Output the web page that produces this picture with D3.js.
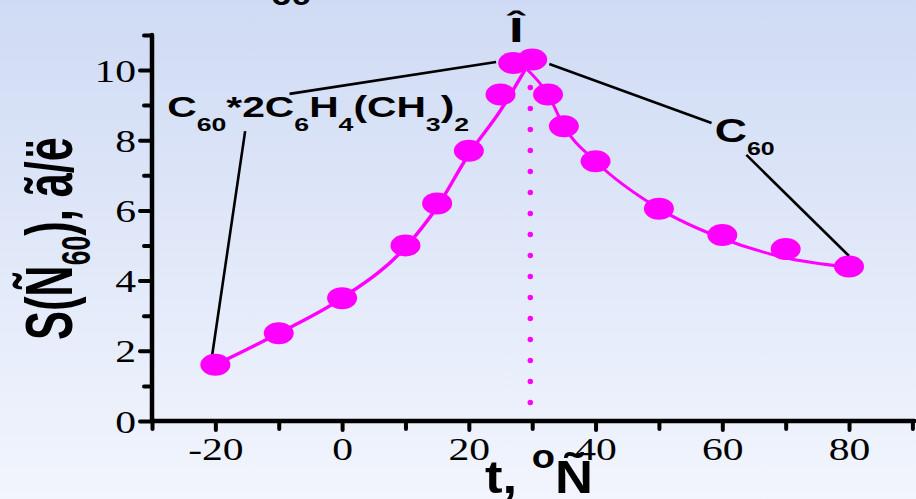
<!DOCTYPE html>
<html><head><meta charset="utf-8">
<script src="https://cdn.jsdelivr.net/npm/d3@7"></script>
<style>html,body{margin:0;padding:0;overflow:hidden;background:#fff}</style>
</head><body>
<svg id="chart" width="916" height="499"></svg>
<script>
// ---- data ----
const tempsLeft   = [-20, -10, 0, 10, 15, 20, 25, 27];
const valuesLeft  = [1.6, 2.5, 3.5, 5.0, 6.2, 7.7, 9.3, 10.2];
const tempsRight  = [30, 32.5, 35, 40, 50, 60, 70, 80];
const valuesRight = [10.3, 9.3, 8.4, 7.4, 6.05, 5.3, 4.9, 4.4];
// fitted curves as drawn in the picture
const fitLeftT  = [-20, -10, 0, 10, 15, 20, 25, 29];
const fitLeftV  = [1.6, 2.5, 3.5, 4.95, 6.1, 7.6, 8.85, 10.05];
const fitRightT = [29, 32.5, 35, 40, 50, 60, 70, 80];
const fitRightV = [10.05, 9.3, 8.4, 7.4, 6.05, 5.2, 4.65, 4.38];
// vertical dotted marker
const markerT = 29.7;
const markerRange = [0.5, 9.5];
// axes
const xTickValues = [-20, 0, 20, 40, 60, 80];
const xTickLabels = ["-20", "0", "20", "40", "60", "80"];
const xMinorTicks = [-30, -10, 10, 30, 50, 70, 90];
const yTickValues = [0, 2, 4, 6, 8, 10];
const yTickLabels = ["0", "2", "4", "6", "8", "10"];
const yMinorTicks = [1, 3, 5, 7, 9, 11];
const xDomain = [-30, 90];
const yDomain = [0, 11];
// texts
const yTitleParts = [{t:"S(Ñ"},{t:"60",sub:true},{t:"), ã/ë"}];
const xTitleParts = [{t:"t, "},{t:"o",sup:true},{t:"Ñ"}];
const label1Parts = [{t:"C"},{t:"60",sub:true},{t:"*2C"},{t:"6",sub:true},{t:"H"},{t:"4",sub:true},{t:"(CH"},{t:"3",sub:true},{t:")"},{t:"2",sub:true}];
const label2Parts = [{t:"C"},{t:"60",sub:true}];
const peakLabel = "Î";
const topFragment = "60";

// ---- drawing ----
const svg = d3.select("#chart");
const W = 916, H = 499;
const defs = svg.append("defs");
const grad = defs.append("linearGradient").attr("id","bg").attr("x1",0).attr("y1",0).attr("x2",0).attr("y2",1);
grad.append("stop").attr("offset","0%").attr("stop-color","#cfdbf4");
grad.append("stop").attr("offset","100%").attr("stop-color","#f2f5fd");
svg.append("rect").attr("width",W).attr("height",H).attr("fill","url(#bg)");

const x = d3.scaleLinear().domain(xDomain).range([152, 912.4]);
const y = d3.scaleLinear().domain(yDomain).range([421, 34.9]);

const SANS = "'Liberation Sans', Arial, sans-serif";
const SERIF = "'Liberation Serif', 'Times New Roman', serif";

// top partial title fragment
svg.append("text").attr("transform","translate(271,5) scale(1.35,1)")
  .attr("font-family",SANS).attr("font-weight","bold").attr("font-size",27).text(topFragment);

// axes
const axisG = svg.append("g");
const xAxisMajor = d3.axisBottom(x).tickValues(xTickValues).tickFormat((d,i)=>xTickLabels[i]).tickSize(9).tickSizeOuter(0);
const xAxisMinor = d3.axisBottom(x).tickValues(xMinorTicks).tickFormat("").tickSize(8).tickSizeOuter(0);
const yAxisMajor = d3.axisLeft(y).tickValues(yTickValues).tickFormat((d,i)=>yTickLabels[i]).tickSize(12).tickSizeOuter(0);
const yAxisMinor = d3.axisLeft(y).tickValues(yMinorTicks).tickFormat("").tickSize(8).tickSizeOuter(0);

function styleAxis(g){
  g.select(".domain").remove();
  g.selectAll(".tick line").attr("stroke","#000").attr("stroke-width",4).attr("stroke-linecap","round");
}
const gxm = axisG.append("g").attr("transform",`translate(0,${y(0)})`).call(xAxisMinor); styleAxis(gxm);
const gx = axisG.append("g").attr("transform",`translate(0,${y(0)})`).call(xAxisMajor); styleAxis(gx);
gx.selectAll(".tick text").attr("font-family",SERIF).attr("font-size",32).attr("fill","#000")
  .attr("y",0).attr("dy",0).attr("transform","translate(0,39) scale(1.3,1)");
const gym = axisG.append("g").attr("transform",`translate(${x(-30)},0)`).call(yAxisMinor); styleAxis(gym);
const gy = axisG.append("g").attr("transform",`translate(${x(-30)},0)`).call(yAxisMajor); styleAxis(gy);
gy.selectAll(".tick text").attr("font-family",SERIF).attr("font-size",32).attr("fill","#000")
  .attr("x",0).attr("dy",0).attr("text-anchor","end").attr("transform","translate(-16,11) scale(1.3,1)");
// axis lines
axisG.append("line").attr("x1",x(-30)).attr("x2",x(90)+2).attr("y1",y(0)).attr("y2",y(0))
  .attr("stroke","#000").attr("stroke-width",4.5).attr("stroke-linecap","round");
axisG.append("line").attr("x1",x(-30)).attr("x2",x(-30)).attr("y1",y(0)).attr("y2",y(11))
  .attr("stroke","#000").attr("stroke-width",4.5).attr("stroke-linecap","round");

// rich text helper
function richText(parent, parts, size, subSize, subDy, supSize, supDy){
  const t = parent.append("text").attr("font-family",SANS).attr("font-weight","bold").attr("font-size",size).attr("fill","#000");
  let shift = 0;
  parts.forEach(p=>{
    const ts = t.append("tspan").text(p.t);
    if (p.sub){ ts.attr("font-size",subSize).attr("dy",subDy-shift); shift = subDy; }
    else if (p.sup){ ts.attr("font-size",supSize).attr("dy",supDy-shift); shift = supDy; }
    else { if (shift!==0) ts.attr("dy",-shift); shift = 0; }
  });
  return t;
}

// y title
const yt = richText(svg, yTitleParts, 44, 27, 12);
{ const w = yt.node().getBBox().width; yt.attr("transform",`translate(72,340) rotate(-90) scale(${203/w},1.5)`); }
// x title
const xt = richText(svg, xTitleParts, 47, 0, 0, 34, -25);
{ const w = xt.node().getBBox().width; xt.attr("transform",`translate(485,493) scale(${108/w},1)`); }

// annotation connector lines (data coordinates)
const connectors = [
  [[-8.3, 9.32],[24.3, 10.23]],
  [[-15.3, 8.26],[-20.5, 1.88]],
  [[32.7, 10.17],[58.3, 8.49]],
  [[63.8, 7.58],[80.0, 4.70]]
];
svg.append("g").selectAll("line").data(connectors).join("line")
  .attr("x1",d=>x(d[0][0])).attr("y1",d=>y(d[0][1]))
  .attr("x2",d=>x(d[1][0])).attr("y2",d=>y(d[1][1]))
  .attr("stroke","#000").attr("stroke-width",2.6);

// labels
const l1 = richText(svg, label1Parts, 29, 19, 14);
{ const w = l1.node().getBBox().width; l1.attr("transform",`translate(${x(-27.6)},${y(8.66)}) scale(${302/w},1)`); }
const l2 = richText(svg, label2Parts, 34, 19, 13);
{ const w = l2.node().getBBox().width; l2.attr("transform",`translate(${x(58.8)},${y(7.95)}) scale(${60/w},1)`); }
svg.append("text").attr("font-family",SANS).attr("font-weight","bold").attr("font-size",35)
  .attr("text-anchor","middle").attr("transform",`translate(${x(27.5)},${y(10.8)}) scale(1.5,1)`).text(peakLabel);

// dotted marker
svg.append("line").attr("x1",x(markerT)).attr("x2",x(markerT))
  .attr("y1",y(markerRange[1])).attr("y2",y(markerRange[0]))
  .attr("stroke","#ff00ff").attr("stroke-width",5.5).attr("stroke-linecap","round").attr("stroke-dasharray","0,21");

// fit curves
const line = d3.line().x(d=>x(d[0])).y(d=>y(d[1])).curve(d3.curveMonotoneX);
svg.append("path").attr("d",line(d3.zip(fitLeftT,fitLeftV))).attr("fill","none").attr("stroke","#ff00ff").attr("stroke-width",3.5);
svg.append("path").attr("d",line(d3.zip(fitRightT,fitRightV))).attr("fill","none").attr("stroke","#ff00ff").attr("stroke-width",3);

// points
const pts = d3.zip(tempsLeft,valuesLeft).concat(d3.zip(tempsRight,valuesRight));
svg.append("g").selectAll("ellipse").data(pts).join("ellipse")
  .attr("cx",d=>x(d[0])).attr("cy",d=>y(d[1])).attr("rx",15).attr("ry",11).attr("fill","#ff00ff");
</script>
</body></html>
